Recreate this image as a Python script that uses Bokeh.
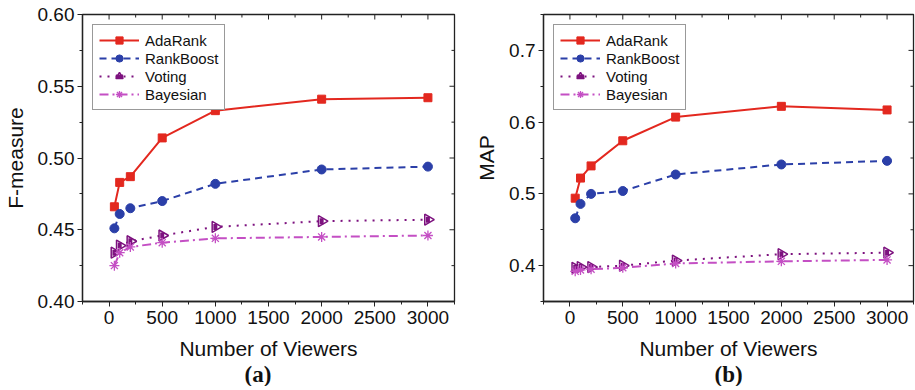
import math
from bokeh.plotting import figure
from bokeh.layouts import row
from bokeh.models import (FixedTicker, Range1d, Legend, LegendItem,
                          Title, PrintfTickFormatter)
from bokeh.embed import file_html
from bokeh.resources import INLINE

# ---------------- data ----------------
viewers = [50, 100, 200, 500, 1000, 2000, 3000]
series_names = ["AdaRank", "RankBoost", "Voting", "Bayesian"]

fm_adarank = [0.466, 0.483, 0.487, 0.514, 0.533, 0.541, 0.542]
fm_rankboost = [0.451, 0.461, 0.465, 0.470, 0.482, 0.492, 0.494]
fm_voting = [0.434, 0.439, 0.442, 0.446, 0.452, 0.456, 0.457]
fm_bayesian = [0.425, 0.434, 0.438, 0.441, 0.444, 0.445, 0.446]

map_adarank = [0.494, 0.522, 0.539, 0.574, 0.607, 0.622, 0.617]
map_rankboost = [0.466, 0.486, 0.500, 0.504, 0.527, 0.541, 0.546]
map_voting = [0.397, 0.398, 0.398, 0.400, 0.407, 0.416, 0.418]
map_bayesian = [0.392, 0.394, 0.395, 0.397, 0.403, 0.406, 0.408]

x_range = (-250, 3250)
x_major = [0, 500, 1000, 1500, 2000, 2500, 3000]
x_minor = [-250, 250, 750, 1250, 1750, 2250, 2750, 3250]
fm_range = (0.40, 0.60)
fm_major = [0.40, 0.45, 0.50, 0.55, 0.60]
fm_minor = [0.425, 0.475, 0.525, 0.575]
map_range = (0.35, 0.75)
map_major = [0.4, 0.5, 0.6, 0.7]
map_minor = [0.35, 0.45, 0.55, 0.65, 0.75]

RED = "#e3281f"
BLUE = "#2b3fa8"
PURPLE = "#7d127f"
ORCHID = "#c44fc4"
INK = "#222222"
SANS = "Liberation Sans"


def make_panel(ys, ylabel, caption, cap_offset, yrange, ymajor, yminor, yfmt,
               border_left, frame_w, border_right):
    p = figure(x_range=Range1d(*x_range), y_range=Range1d(*yrange),
               frame_width=frame_w, frame_height=287,
               min_border_left=border_left, min_border_right=border_right,
               min_border_top=14, min_border_bottom=85,
               output_backend="svg", toolbar_location=None,
               background_fill_color="white", border_fill_color="white")
    p.grid.visible = False
    p.outline_line_color = INK
    p.outline_line_width = 1.3

    xa = p.xaxis[0]
    xa.ticker = FixedTicker(ticks=x_major, minor_ticks=x_minor)
    ya = p.yaxis[0]
    ya.ticker = FixedTicker(ticks=ymajor, minor_ticks=yminor)
    ya.formatter = PrintfTickFormatter(format=yfmt)
    for ax in (xa, ya):
        ax.axis_line_color = INK
        ax.axis_line_width = 1.3
        ax.major_tick_line_color = INK
        ax.minor_tick_line_color = INK
        ax.major_tick_out = 5
        ax.major_tick_in = 0
        ax.minor_tick_out = 3
        ax.minor_tick_in = 0
        ax.major_label_text_font = SANS
        ax.major_label_text_font_size = "19px"
        ax.major_label_text_color = "#111111"
        ax.axis_label_text_font = SANS
        ax.axis_label_text_font_size = "21px"
        ax.axis_label_text_font_style = "normal"
        ax.axis_label_text_color = "#111111"
    xa.major_label_standoff = 4
    ya.major_label_standoff = 3
    xa.axis_label = "Number of Viewers"
    xa.axis_label_standoff = 10
    ya.axis_label = ylabel
    ya.axis_label_standoff = 8

    # inward mirror ticks on the top and right edges (clipped to the frame)
    p.scatter(x_major, [yrange[1]] * len(x_major), marker="dash",
              angle=math.pi / 2, size=10, line_color=INK, line_width=1)
    p.scatter(x_minor, [yrange[1]] * len(x_minor), marker="dash",
              angle=math.pi / 2, size=6, line_color=INK, line_width=1)
    p.scatter([x_range[1]] * len(ymajor), ymajor, marker="dash", size=10,
              line_color=INK, line_width=1)
    p.scatter([x_range[1]] * len(yminor), yminor, marker="dash", size=6,
              line_color=INK, line_width=1)

    a_y, r_y, v_y, b_y = ys
    items = []

    l1 = p.line(viewers, a_y, line_color=RED, line_width=2)
    m1 = p.scatter(viewers, a_y, marker="square", size=8, fill_color=RED, line_color=RED)
    items.append(LegendItem(label=series_names[0], renderers=[l1, m1]))

    l2 = p.line(viewers, r_y, line_color=BLUE, line_width=2, line_dash="7 5")
    m2 = p.scatter(viewers, r_y, marker="circle", size=9, fill_color=BLUE, line_color=BLUE)
    items.append(LegendItem(label=series_names[1], renderers=[l2, m2]))

    l3 = p.line(viewers, v_y, line_color=PURPLE, line_width=2, line_dash="2 6")
    m3 = p.scatter(viewers, v_y, marker="triangle", angle=-math.pi / 2, size=11,
                   fill_color="white", line_color=PURPLE, line_width=1.5)
    m3b = p.scatter(viewers, v_y, marker="dash", angle=math.pi / 2, size=6,
                    line_color=PURPLE, line_width=4)
    items.append(LegendItem(label=series_names[2], renderers=[l3, m3, m3b]))

    l4 = p.line(viewers, b_y, line_color=ORCHID, line_width=2, line_dash="9 4 2 4")
    m4 = p.scatter(viewers, b_y, marker="asterisk", size=10, line_color=ORCHID,
                   line_width=1.3)
    items.append(LegendItem(label=series_names[3], renderers=[l4, m4]))

    leg = Legend(items=items, location="top_left")
    leg.margin = 10
    leg.padding = 6
    leg.spacing = 0
    leg.glyph_width = 40
    leg.glyph_height = 18
    leg.label_height = 18
    leg.label_standoff = 6
    leg.label_text_font = SANS
    leg.label_text_font_size = "15px"
    leg.label_text_color = "#111111"
    leg.border_line_color = "#333333"
    leg.border_line_width = 1.3
    leg.background_fill_alpha = 1
    p.add_layout(leg)

    cap = Title(text=caption, align="left", offset=cap_offset,
                text_font="Liberation Serif", text_font_style="bold",
                text_font_size="23px", text_color="#111111", standoff=-5)
    p.add_layout(cap, "below")
    return p


pa = make_panel((fm_adarank, fm_rankboost, fm_voting, fm_bayesian),
                "F-measure", "(a)", 162, fm_range, fm_major, fm_minor, "%.2f",
                81, 372, 10)
pb = make_panel((map_adarank, map_rankboost, map_voting, map_bayesian),
                "MAP", "(b)", 171, map_range, map_major, map_minor, "%.1f",
                79, 370, 2)

layout = row(pa, pb, spacing=0)
open("out.html", "w").write(file_html(layout, INLINE))
